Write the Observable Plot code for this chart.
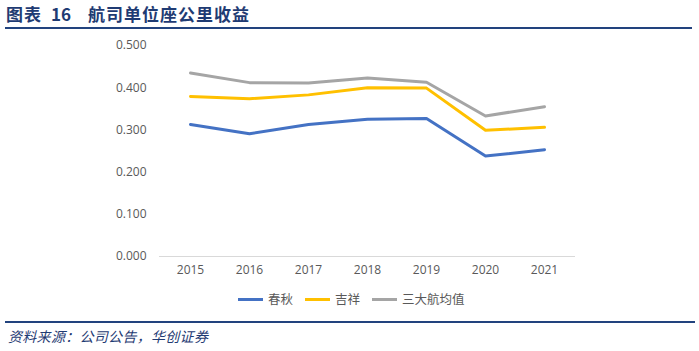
<!DOCTYPE html>
<html><head><meta charset="utf-8">
<script src="https://cdn.jsdelivr.net/npm/d3@7"></script>
<script src="https://cdn.jsdelivr.net/npm/@observablehq/plot@0.6"></script>
<style>
body{margin:0;background:#fff;width:699px;height:351px;overflow:hidden;position:relative;font-family:"Noto Sans CJK SC",sans-serif}
.tt{position:absolute;top:2px;font-size:17px;font-weight:bold;color:#1F3B73;white-space:nowrap;line-height:24px}
.rule{position:absolute;left:5px;height:2px;background:#22437E}
#chart{position:absolute;left:0;top:36px}
#legend{position:absolute;top:290px;left:238px;display:flex;align-items:center;font-size:12.5px;color:#595959;line-height:18px}
#legend .sw{display:inline-block;width:25px;height:3px;margin-right:5px}
#legend .it{display:flex;align-items:center;margin-right:12px}
#caption{position:absolute;left:8px;top:326px;font-size:14px;font-style:italic;color:#1F3B73;line-height:20px;letter-spacing:0.3px}
</style></head>
<body>
<div class="tt" style="left:6px;letter-spacing:1px">图表</div>
<div class="tt" style="left:51px">16</div>
<div class="tt" style="left:88px;letter-spacing:1px">航司单位座公里收益</div>
<div class="rule" style="top:27px;width:687px"></div>
<div id="chart"></div>
<div id="legend"></div>
<div class="rule" style="top:321px;width:690px"></div>
<div id="caption">资料来源：公司公告，华创证券</div>
<script>
const years = ["2015","2016","2017","2018","2019","2020","2021"];
const seriesNames = ["春秋","吉祥","三大航均值"];
const seriesColors = ["#4472C4","#FFC000","#A5A5A5"];
const chunqiu = [0.313,0.291,0.313,0.325,0.327,0.238,0.253];
const juneyao = [0.379,0.374,0.383,0.400,0.399,0.299,0.306];
const big3Avg = [0.435,0.412,0.411,0.423,0.413,0.333,0.355];
const yTicks = [0,0.1,0.2,0.3,0.4,0.5];

const seriesValues = [chunqiu, juneyao, big3Avg];
const table = [];
seriesNames.forEach((name, i) => {
  years.forEach((yr, j) => table.push({series: name, year: yr, value: seriesValues[i][j]}));
});

const chart = Plot.plot({
  width: 699, height: 252,
  marginLeft: 159, marginRight: 124, marginTop: 9, marginBottom: 32,
  style: {fontFamily: "'Open Sans', sans-serif", fontSize: "12px", color: "#595959", background: "transparent"},
  x: {type: "point", domain: years, padding: 0.5},
  y: {domain: [0, 0.5]},
  color: {domain: seriesNames, range: seriesColors},
  marks: [
    Plot.ruleY([0], {stroke: "#D9D9D9", strokeWidth: 1}),
    Plot.axisY({ticks: yTicks, tickFormat: d3.format(".3f"), tickSize: 0, tickPadding: 13, label: null, fill: "#595959"}),
    Plot.axisX({tickSize: 0, tickPadding: 9, label: null, fill: "#595959"}),
    Plot.lineY(table, {x: "year", y: "value", z: "series", stroke: "series", strokeWidth: 3})
  ]
});
document.getElementById("chart").appendChild(chart);

const legend = document.getElementById("legend");
seriesNames.forEach((name, i) => {
  const it = document.createElement("span");
  it.className = "it";
  const sw = document.createElement("span");
  sw.className = "sw";
  sw.style.background = seriesColors[i];
  it.appendChild(sw);
  it.appendChild(document.createTextNode(name));
  legend.appendChild(it);
});
</script>
</body></html>
